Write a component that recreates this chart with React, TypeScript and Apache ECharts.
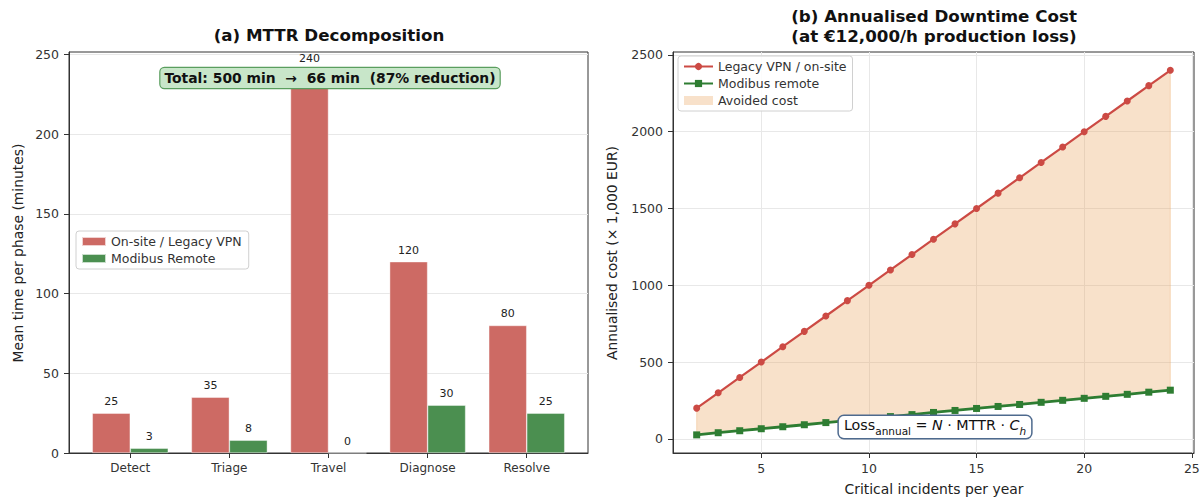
import React, { useEffect, useRef } from 'react';
import * as echarts from 'echarts';

const phases = ['Detect', 'Triage', 'Travel', 'Diagnose', 'Resolve'];
const legacyMinutes = [25, 35, 240, 120, 80];
const modibusMinutes = [3, 8, 0, 30, 25];
const leftYTicks = [0, 50, 100, 150, 200, 250];
const phaseIdx = [0, 1, 2, 3, 4];

const incidents = [2, 3, 4, 5, 6, 7, 8, 9, 10, 11, 12, 13, 14, 15, 16, 17, 18, 19, 20, 21, 22, 23, 24];
const legacyCost = [200, 300, 400, 500, 600, 700, 800, 900, 1000, 1100, 1200, 1300, 1400, 1500, 1600, 1700, 1800, 1900, 2000, 2100, 2200, 2300, 2400];
const modibusCost = [26, 40, 53, 66, 79, 92, 106, 119, 132, 145, 158, 172, 185, 198, 211, 224, 238, 251, 264, 277, 290, 304, 317];
const rightXTicks = [5, 10, 15, 20, 25];
const rightYTicks = [0, 500, 1000, 1500, 2000, 2500];

const FONT = "'DejaVu Sans', sans-serif";
const RED_BAR = '#cd6a64';
const GREEN_BAR = '#4b8f50';
const RED_LINE = '#cc4a44';
const GREEN_LINE = '#2e7d32';
const FILL = 'rgba(232,155,78,0.3)';
const AXIS = '#333';
const GRIDC = '#e8e8e8';

export default function App() {
  const ref = useRef<HTMLDivElement>(null);
  useEffect(() => {
    document.body.style.margin = '0';
    if (!ref.current) return;
    const chart = echarts.init(ref.current, null, { renderer: 'svg' });
    const tickStyle = { show: true, length: 5, inside: false, lineStyle: { color: AXIS, width: 1 } };
    const labelBase = { color: '#333', fontSize: 12.5, fontFamily: FONT, margin: 10, formatter: (v: number) => String(v) };
    const legendBase = {
      orient: 'vertical', itemHeight: 9, itemGap: 4,
      borderColor: '#d0d0d0', borderWidth: 1, borderRadius: 3,
      backgroundColor: 'rgba(255,255,255,0.85)',
      textStyle: { fontSize: 12.5, color: '#333', fontFamily: FONT },
    };
    const option: any = {
      animation: false,
      textStyle: { fontFamily: FONT },
      grid: [
        { left: 69, top: 52, width: 519, height: 401, show: true, borderColor: AXIS, borderWidth: 1, backgroundColor: 'transparent', outerBoundsMode: 'none', containLabel: false },
        { left: 673, top: 52, width: 521, height: 401, show: true, borderColor: AXIS, borderWidth: 1, backgroundColor: 'transparent', outerBoundsMode: 'none', containLabel: false },
      ],
      xAxis: [
        {
          type: 'value', gridIndex: 0, min: -0.618, max: 4.618,
          axisLine: { show: true, onZero: false, lineStyle: { color: AXIS } },
          axisTick: { ...tickStyle, customValues: phaseIdx },
          axisLabel: { ...labelBase, fontSize: 12, margin: 9, customValues: phaseIdx, formatter: (v: number) => phases[Math.round(v)] ?? '' },
          splitLine: { show: false },
        },
        {
          type: 'value', gridIndex: 1, min: 0.9, max: 25.1,
          axisLine: { show: true, onZero: false, lineStyle: { color: AXIS } },
          axisTick: { ...tickStyle, customValues: rightXTicks },
          axisLabel: { ...labelBase, margin: 9, customValues: rightXTicks },
          splitLine: { show: true, lineStyle: { color: GRIDC, width: 1 } },
        },
      ],
      yAxis: [
        {
          type: 'value', gridIndex: 0, min: 0, max: 251.5,
          axisLine: { show: true, onZero: false, lineStyle: { color: AXIS } },
          axisTick: { ...tickStyle, customValues: leftYTicks },
          axisLabel: { ...labelBase, customValues: leftYTicks },
          splitLine: { show: true, lineStyle: { color: GRIDC, width: 1 } },
        },
        {
          type: 'value', gridIndex: 1, min: -92, max: 2519,
          axisLine: { show: true, onZero: false, lineStyle: { color: AXIS } },
          axisTick: { ...tickStyle, customValues: rightYTicks },
          axisLabel: { ...labelBase, customValues: rightYTicks },
          splitLine: { show: true, lineStyle: { color: GRIDC, width: 1 } },
        },
      ],
      legend: [
        {
          ...legendBase,
          data: [
            { name: 'On-site / Legacy VPN', icon: 'rect' },
            { name: 'Modibus Remote', icon: 'rect' },
          ],
          left: 76, top: 231, itemWidth: 24, padding: [4, 7, 4, 5],
        },
        {
          ...legendBase,
          data: [
            { name: 'Legacy VPN / on-site' },
            { name: 'Modibus remote' },
            { name: 'Avoided cost', icon: 'rect', itemStyle: { color: FILL } },
          ],
          left: 678, top: 56, itemWidth: 29, padding: [4, 6, 4, 5],
        },
      ],
      series: [
        {
          name: 'On-site / Legacy VPN', type: 'bar', xAxisIndex: 0, yAxisIndex: 0,
          data: phaseIdx.map((i) => [i, legacyMinutes[i]]),
          barWidth: 38, barGap: '0%',
          itemStyle: { color: RED_BAR, borderColor: 'rgba(255,255,255,0.7)', borderWidth: 0.6 },
          label: { show: true, position: 'top', distance: 6, fontSize: 11, color: '#222', fontFamily: FONT },
        },
        {
          name: 'Modibus Remote', type: 'bar', xAxisIndex: 0, yAxisIndex: 0,
          data: phaseIdx.map((i) => [i, modibusMinutes[i]]),
          barWidth: 38, barGap: '0%',
          itemStyle: { color: GREEN_BAR, borderColor: 'rgba(255,255,255,0.7)', borderWidth: 0.6 },
          label: { show: true, position: 'top', distance: 6, fontSize: 11, color: '#222', fontFamily: FONT },
        },
        {
          name: 'Avoided cost', type: 'custom', xAxisIndex: 1, yAxisIndex: 1,
          data: [[incidents[0], legacyCost[0]]],
          itemStyle: { color: FILL }, silent: true, z: 1,
          renderItem: (_params: any, api: any) => {
            const top = incidents.map((n, i) => api.coord([n, legacyCost[i]]));
            const bot = incidents.map((n, i) => api.coord([n, modibusCost[i]])).reverse();
            return { type: 'polygon', shape: { points: top.concat(bot) }, style: { fill: FILL, stroke: FILL, lineWidth: 1 } };
          },
        },
        {
          name: 'Legacy VPN / on-site', type: 'line', xAxisIndex: 1, yAxisIndex: 1,
          data: incidents.map((n, i) => [n, legacyCost[i]]),
          symbol: 'circle', symbolSize: 7, showSymbol: true,
          lineStyle: { color: RED_LINE, width: 2.2 }, itemStyle: { color: RED_LINE }, z: 3,
        },
        {
          name: 'Modibus remote', type: 'line', xAxisIndex: 1, yAxisIndex: 1,
          data: incidents.map((n, i) => [n, modibusCost[i]]),
          symbol: 'rect', symbolSize: 7, showSymbol: true,
          lineStyle: { color: GREEN_LINE, width: 2.8 }, itemStyle: { color: GREEN_LINE }, z: 3,
        },
      ],
      graphic: [
        { type: 'text', x: 329, y: 35, style: { text: '(a) MTTR Decomposition', font: `bold 16.7px ${FONT}`, fill: '#111', align: 'center', verticalAlign: 'middle' } },
        { type: 'text', x: 934, y: 16, style: { text: '(b) Annualised Downtime Cost', font: `bold 16.7px ${FONT}`, fill: '#111', align: 'center', verticalAlign: 'middle' } },
        { type: 'text', x: 934, y: 36, style: { text: '(at €12,000/h production loss)', font: `bold 16.7px ${FONT}`, fill: '#111', align: 'center', verticalAlign: 'middle' } },
        { type: 'text', x: 18, y: 253, rotation: Math.PI / 2, style: { text: 'Mean time per phase (minutes)', font: `13.9px ${FONT}`, fill: '#222', align: 'center', verticalAlign: 'middle' } },
        { type: 'text', x: 612, y: 253, rotation: Math.PI / 2, style: { text: 'Annualised cost (× 1,000 EUR)', font: `13.9px ${FONT}`, fill: '#222', align: 'center', verticalAlign: 'middle' } },
        { type: 'text', x: 934, y: 489, style: { text: 'Critical incidents per year', font: `13.9px ${FONT}`, fill: '#222', align: 'center', verticalAlign: 'middle' } },
        {
          type: 'text', x: 330, y: 78, z: 100,
          style: {
            text: 'Total: 500 min  →  66 min  (87% reduction)', font: `bold 13.9px ${FONT}`, fill: '#111',
            align: 'center', verticalAlign: 'middle',
            backgroundColor: '#c8e6c9', borderColor: '#5a9e5e', borderWidth: 1.2, borderRadius: 4, padding: [3, 4, 3, 4],
          },
        },
        {
          type: 'text', x: 935, y: 427, z: 100,
          style: {
            text: '{a|Loss}{s|annual}{a| = }{i|N}{a| · MTTR · }{i|C}{si|h}',
            align: 'center', verticalAlign: 'middle',
            backgroundColor: '#ffffff', borderColor: '#4e6a8e', borderWidth: 1.5, borderRadius: 5, padding: [2, 5, 2, 5],
            rich: {
              a: { fontSize: 14.3, fontFamily: FONT, fill: '#111', lineHeight: 18, verticalAlign: 'top' },
              i: { fontSize: 14.3, fontFamily: FONT, fontStyle: 'italic', fill: '#111', lineHeight: 18, verticalAlign: 'top' },
              s: { fontSize: 10.5, fontFamily: FONT, fill: '#111', lineHeight: 12, verticalAlign: 'bottom', padding: [8, 0, 0, 0] },
              si: { fontSize: 10.5, fontFamily: FONT, fontStyle: 'italic', fill: '#111', lineHeight: 12, verticalAlign: 'bottom', padding: [8, 0, 0, 0] },
            },
          },
        },
      ],
    };
    chart.setOption(option);
    return () => chart.dispose();
  }, []);
  return <div ref={ref} style={{ width: 1203, height: 498 }} />;
}
